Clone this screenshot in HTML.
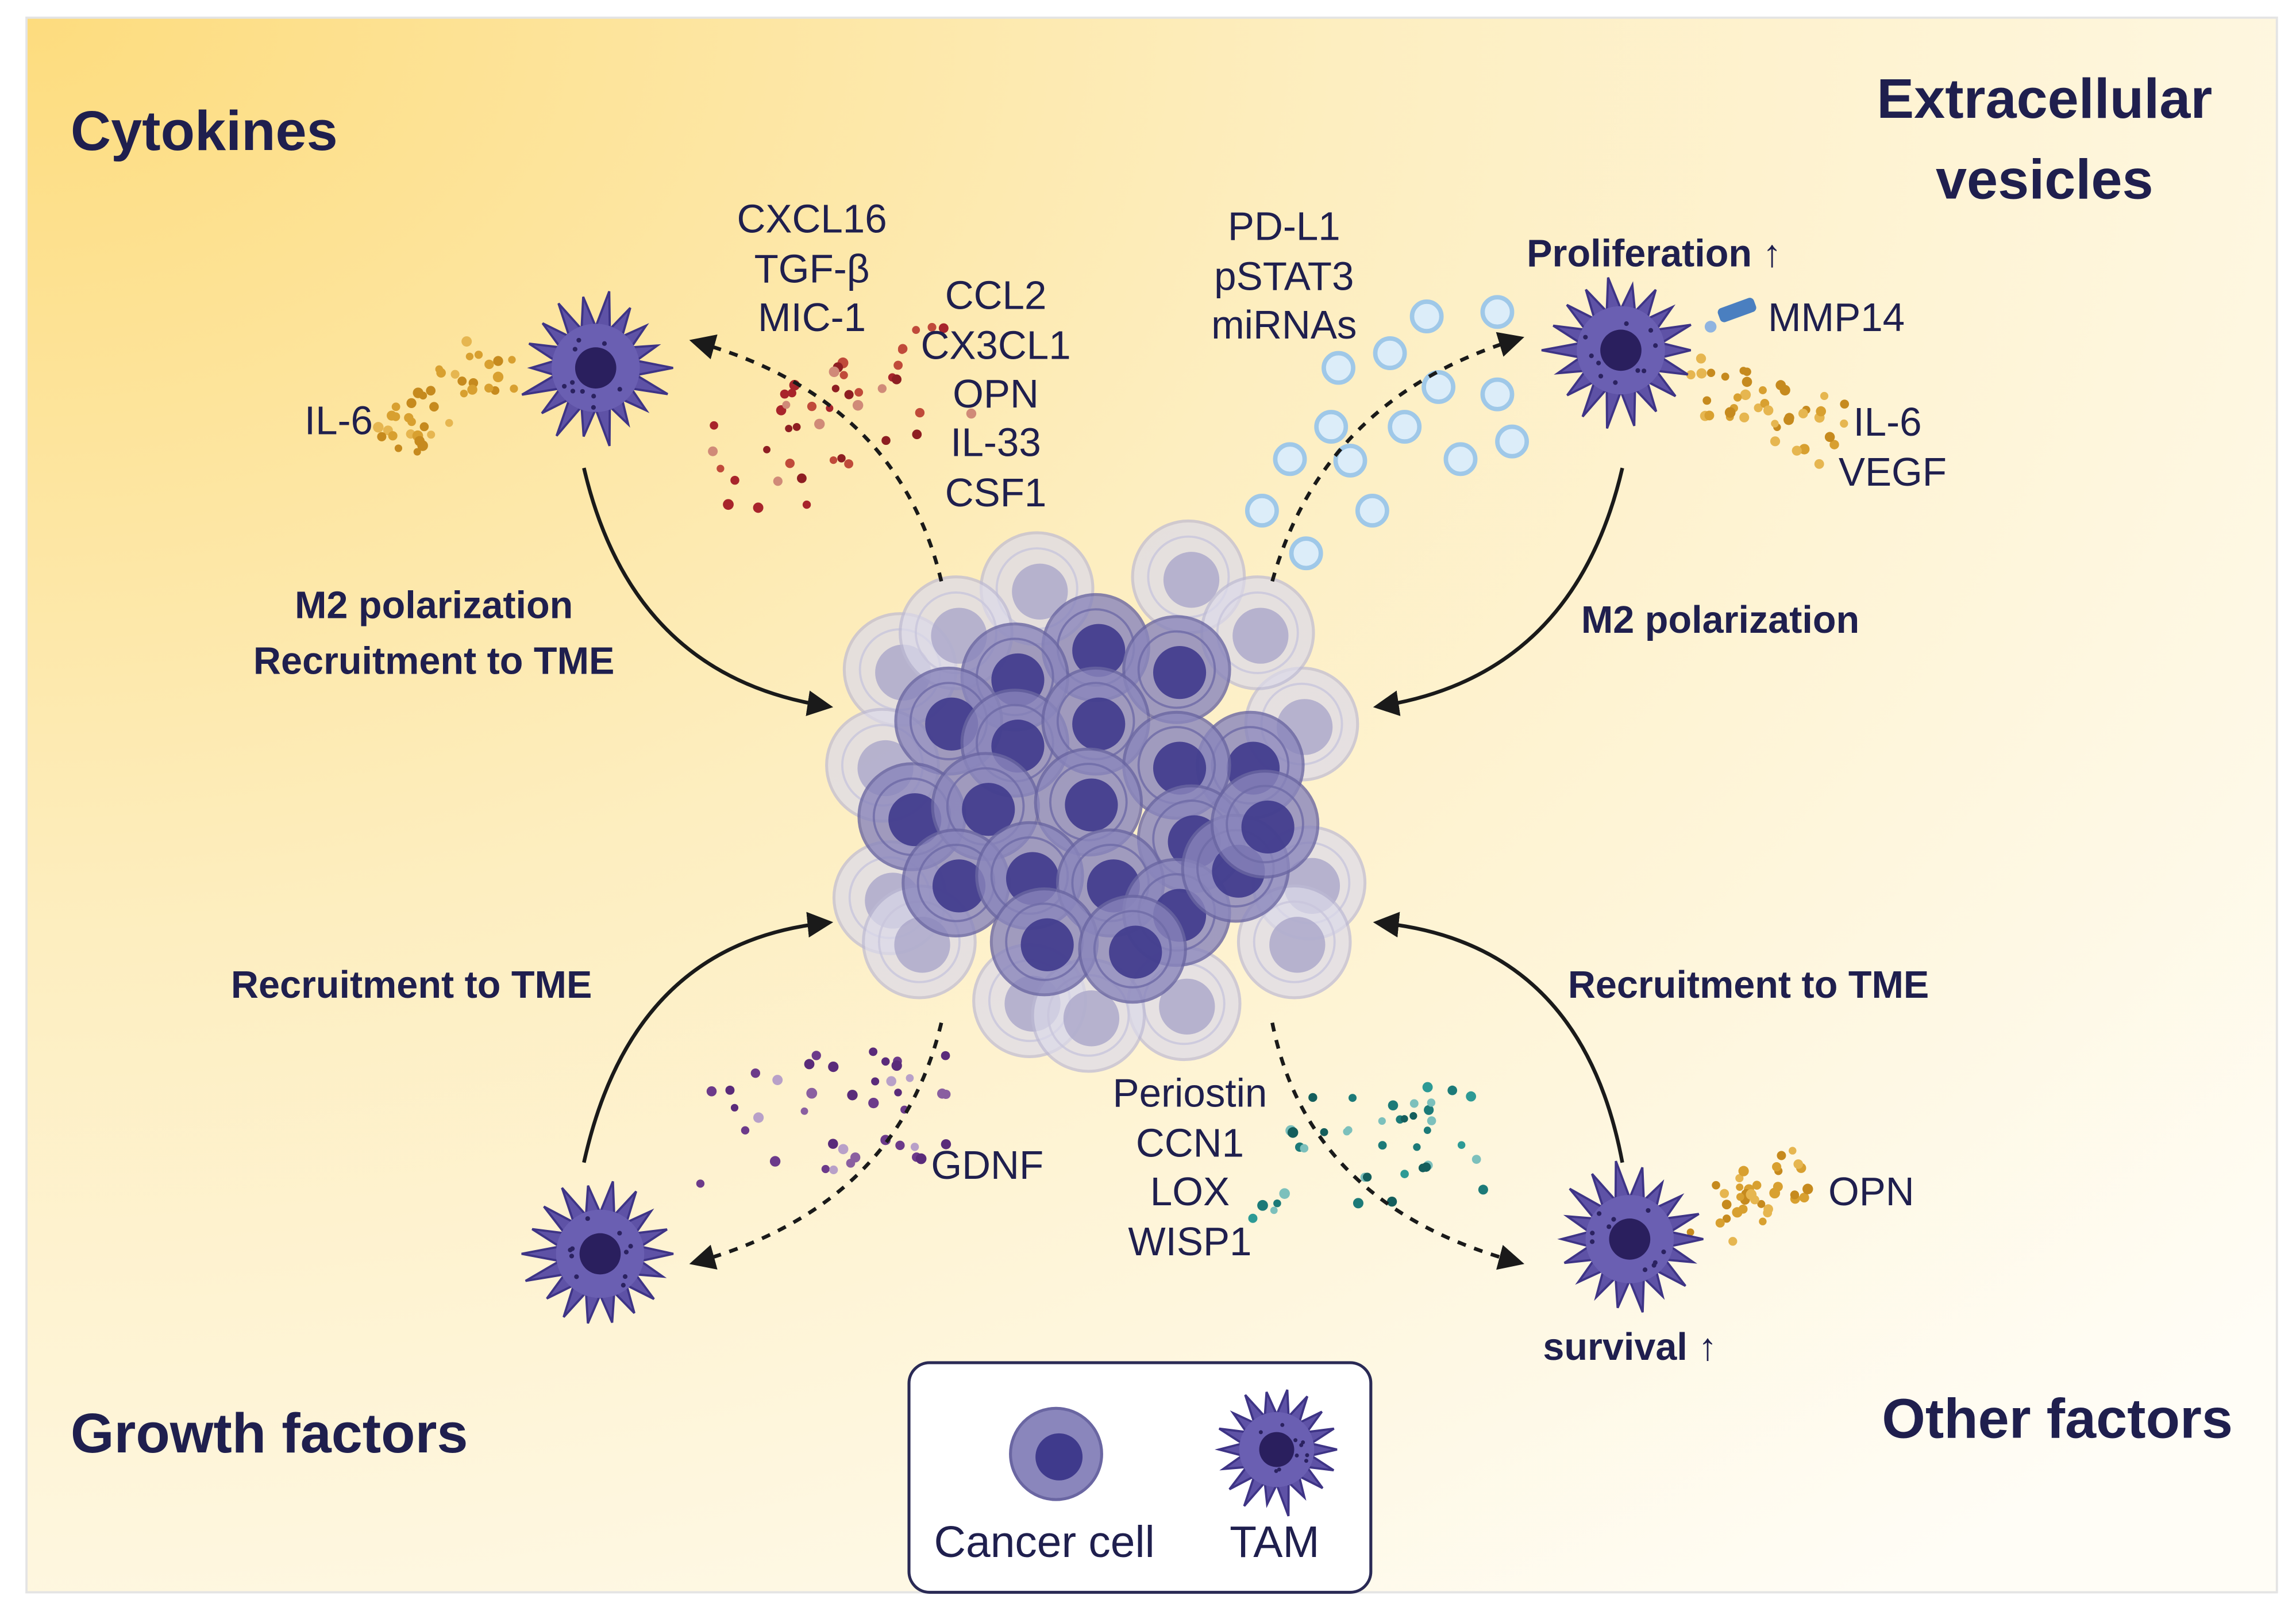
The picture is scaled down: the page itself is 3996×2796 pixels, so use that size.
<!DOCTYPE html>
<html><head><meta charset="utf-8">
<style>
html,body{margin:0;padding:0;background:#fff;}
svg{display:block}
text{font-family:"Liberation Sans",sans-serif;fill:#1f1f4e}
.h{font-weight:bold;font-size:38px}
.b{font-weight:bold;font-size:26px}
.n{font-size:27px}
</style></head><body>
<svg id="s" width="3996" height="2796" viewBox="0 0 1561 1092" preserveAspectRatio="none" xmlns="http://www.w3.org/2000/svg">
<defs>
<radialGradient id="bg" cx="0" cy="0" r="1.3" fx="0" fy="0">
<stop offset="0" stop-color="#fddc7e"/>
<stop offset="0.45" stop-color="#fdeec0"/>
<stop offset="1" stop-color="#fffdf6"/>
</radialGradient>
<marker id="ah" viewBox="0 0 10 10" refX="8" refY="5" markerWidth="7" markerHeight="7" orient="auto"><path d="M0,0 L10,5 L0,10 z" fill="#1a1a1a"/></marker>
</defs>
<rect x="0" y="0" width="1561" height="1092" fill="#fff"/>
<rect x="18" y="12" width="1530" height="1070" fill="url(#bg)" stroke="#e4e4e4" stroke-width="1.5"/>
<g id="dots"></g>
<g id="cluster"></g>
<g fill="#dcedf9" stroke="#9fc8e8" stroke-width="3">
<circle cx="970" cy="215" r="10"/><circle cx="1018" cy="212" r="10"/><circle cx="945" cy="240" r="10"/><circle cx="910" cy="250" r="10"/><circle cx="978" cy="263" r="10"/><circle cx="1018" cy="268" r="10"/><circle cx="905" cy="290" r="10"/><circle cx="955" cy="290" r="10"/><circle cx="1028" cy="300" r="10"/><circle cx="877" cy="312" r="10"/><circle cx="918" cy="313" r="10"/><circle cx="993" cy="312" r="10"/><circle cx="858" cy="347" r="10"/><circle cx="933" cy="347" r="10"/><circle cx="888" cy="376" r="10"/>
</g>
<g fill="none" stroke="#1a1a1a" stroke-width="2.5" marker-end="url(#ah)">
<path d="M397,318 Q430,460 563,480"/>
<path d="M1103,318 Q1070,460 937,480"/>
<path d="M397,790 Q430,640 563,627"/>
<path d="M1103,790 Q1075,640 937,627"/>
</g>
<g fill="none" stroke="#1a1a1a" stroke-width="2.5" stroke-dasharray="6,6" marker-end="url(#ah)">
<path d="M640,395 Q610,270 472,232"/>
<path d="M865,395 Q900,270 1033,230"/>
<path d="M640,695 Q610,820 472,858"/>
<path d="M865,695 Q890,820 1033,858"/>
</g>
<g id="tams"></g>
<rect x="1168" y="206" width="26" height="10" rx="3" fill="#4a7fc0" transform="rotate(-20 1180 211)"/>
<circle cx="1163" cy="222" r="4" fill="#8fb4e0"/>
<text class="h" x="48" y="102">Cytokines</text>
<text class="h" x="1390" y="80" text-anchor="middle">Extracellular</text>
<text class="h" x="1390" y="135" text-anchor="middle">vesicles</text>
<text class="h" x="48" y="987">Growth factors</text>
<text class="h" x="1518" y="977" text-anchor="end">Other factors</text>
<g class="n" text-anchor="middle">
<text class="n" x="552" y="158">CXCL16</text><text class="n" x="552" y="192">TGF-β</text><text class="n" x="552" y="225">MIC-1</text>
<text class="n" x="677" y="210">CCL2</text><text class="n" x="677" y="244">CX3CL1</text><text class="n" x="677" y="277">OPN</text><text class="n" x="677" y="310">IL-33</text><text class="n" x="677" y="344">CSF1</text>
<text class="n" x="873" y="163">PD-L1</text><text class="n" x="873" y="197">pSTAT3</text><text class="n" x="873" y="230">miRNAs</text>
<text class="n" x="809" y="752">Periostin</text><text class="n" x="809" y="786">CCN1</text><text class="n" x="809" y="819">LOX</text><text class="n" x="809" y="853">WISP1</text>
<text class="b" x="295" y="420">M2 polarization</text><text class="b" x="295" y="458">Recruitment to TME</text>
</g>
<text class="b" x="1038" y="181">Proliferation ↑</text>
<text class="n" x="1202" y="225">MMP14</text>
<text class="n" x="1260" y="296">IL-6</text><text class="n" x="1250" y="330">VEGF</text>
<text class="n" x="207" y="295">IL-6</text>
<text class="b" x="1075" y="430">M2 polarization</text>
<text class="b" x="157" y="678">Recruitment to TME</text>
<text class="b" x="1066" y="678">Recruitment to TME</text>
<text class="n" x="633" y="801">GDNF</text>
<text class="n" x="1243" y="819">OPN</text>
<text class="b" x="1049" y="924">survival ↑</text>
<rect x="618" y="926" width="314" height="156" rx="14" fill="#fff" stroke="#2a2a55" stroke-width="2"/>
<g id="legend"></g>
<text class="n" x="635" y="1058" style="font-size:30px">Cancer cell</text>
<text class="n" x="836" y="1058" style="font-size:30px">TAM</text>
</svg>
<script>
var NS="http://www.w3.org/2000/svg";
var seed=7;function r(){seed=(seed*9301+49297)%233280;return seed/233280;}
function el(p,t,a){var e=document.createElementNS(NS,t);for(var k in a)e.setAttribute(k,a[k]);p.appendChild(e);return e;}
var dots=document.getElementById("dots");
function spray(x0,y0,x1,y1,n,cols,rad){for(var i=0;i<n;i++){var t=r();var x=x0+(x1-x0)*t+(r()-0.5)*rad;var y=y0+(y1-y0)*t+(r()-0.5)*rad;el(dots,"circle",{cx:x,cy:y,r:2.5+r()*1.2,fill:cols[Math.floor(r()*cols.length)]});}}
spray(510,320,630,250,45,["#a8242b","#c04a3a","#d08a78","#8e1e22"],80);
spray(265,300,340,245,40,["#d8a030","#c68a1e","#e6b650"],40);
spray(1165,262,1250,300,40,["#d8a030","#c68a1e","#e6b650"],45);
spray(1160,830,1230,795,35,["#d8a030","#c68a1e","#e6b650"],40);
spray(510,770,630,750,40,["#5a2b7a","#8a5fa0","#b8a0c8","#6c3a8a"],80);
spray(885,790,990,775,40,["#1c7a78","#2d9a95","#7cc0bc","#145e5c"],80);
function tam(p,cx,cy,s){var pts=[];var n=18;for(var i=0;i<n*2;i++){var a=i*Math.PI/n;var rr=(i%2?28:44+r()*10)*s;pts.push((cx+Math.cos(a)*rr).toFixed(1)+","+(cy+Math.sin(a)*rr).toFixed(1));}
el(p,"polygon",{points:pts.join(" "),fill:"#5e52a6","stroke":"#3e3486","stroke-width":1.5});
el(p,"circle",{cx:cx,cy:cy,r:30*s,fill:"#6a5fb2"});
for(var j=0;j<10;j++){var a=r()*6.28,d=(16+r()*12)*s;el(p,"circle",{cx:cx+Math.cos(a)*d,cy:cy+Math.sin(a)*d,r:1.6*s,fill:"#2b2260"});}
el(p,"circle",{cx:cx,cy:cy,r:14*s,fill:"#2a1f5e"});}
var tg=document.getElementById("tams");
tam(tg,405,250,1);tam(tg,1102,238,1);tam(tg,408,852,1);tam(tg,1108,842,1);
var lg=document.getElementById("legend");tam(lg,868,985,0.85);
function cell(p,cx,cy,R,dark){el(p,"circle",{cx:cx,cy:cy,r:R,fill:dark?"#8a86bc":"#dcdaea",stroke:dark?"#6a66a2":"#bdbad4","stroke-width":2,opacity:dark?0.8:0.7});
el(p,"circle",{cx:cx,cy:cy,r:R*0.72,fill:"none",stroke:dark?"#6e6aa6":"#c8c5dc","stroke-width":1.5,opacity:0.8});
el(p,"circle",{cx:cx+2,cy:cy+2,r:R*0.5,fill:dark?"#3f3a8c":"#aaa6c9",opacity:dark?0.9:0.8});}
var cg=document.getElementById("cluster");
var light=[[705,400],[808,392],[612,455],[885,492],[600,520],[890,600],[605,610],[625,640],[700,680],[805,682],[740,690],[880,640],[855,430],[650,430]];
light.forEach(function(c){cell(cg,c[0],c[1],38,false);});
var dk=[[745,440],[690,460],[800,455],[645,490],[850,520],[690,505],[745,490],[800,520],[620,555],[670,548],[740,545],[810,570],[650,600],[700,595],[755,600],[800,620],[710,640],[770,645],[840,590],[860,560]];
dk.forEach(function(c){cell(cg,c[0],c[1],36,true);});
el(lg,"circle",{cx:718,cy:988,r:31,fill:"#8a86bc",stroke:"#6a66a2","stroke-width":2});
el(lg,"circle",{cx:720,cy:990,r:16,fill:"#3f3a8c"});
</script>
</body></html>
